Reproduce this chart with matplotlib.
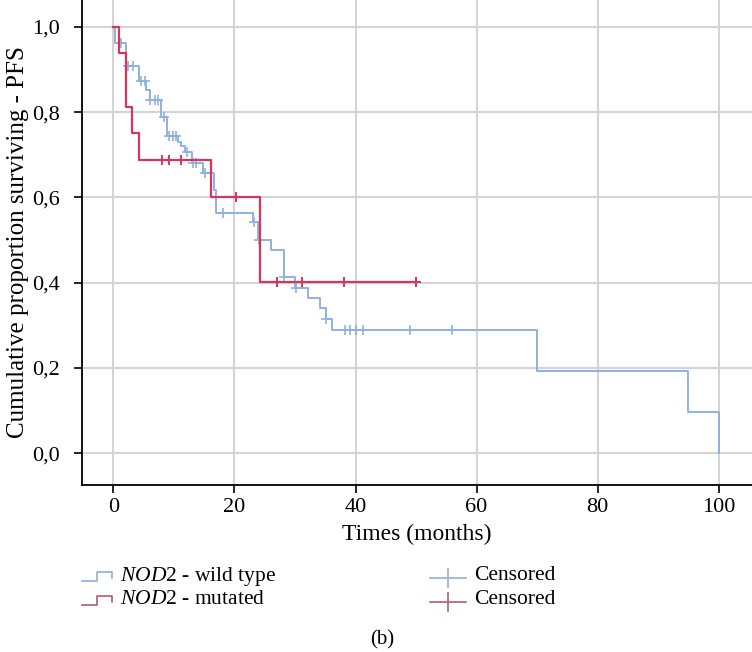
import numpy as np
import matplotlib.pyplot as plt
from matplotlib.lines import Line2D

plt.rcParams['font.family'] = ['Liberation Serif', 'DejaVu Serif']
plt.rcParams['mathtext.fontset'] = 'custom'
plt.rcParams['mathtext.rm'] = 'Liberation Serif'
plt.rcParams['mathtext.it'] = 'Liberation Serif:italic'

# NOD2 wild type: step times and survival after each step
wt_t = [0, 0.2, 2.1, 4.2, 5.4, 6.0, 7.9, 8.9, 10.7, 11.2, 11.9, 12.9, 14.8, 16.6, 17.0,
        23.1, 23.9, 26.1, 28.1, 30.0, 32.2, 34.1, 35.1, 36.1, 70.0, 95.0, 100.0]
wt_s = [1.0, 0.963, 0.907, 0.872, 0.852, 0.829, 0.788, 0.744, 0.731, 0.720, 0.707, 0.680, 0.657, 0.617, 0.563,
        0.543, 0.500, 0.477, 0.414, 0.387, 0.363, 0.340, 0.314, 0.289, 0.193, 0.097, 0.0]
wt_cens = [1.2, 2.4, 3.2, 4.5, 5.2, 6.1, 6.8, 7.4, 8.3, 9.2, 9.8, 10.4, 12.2, 13.1, 13.7, 15.2,
           18.1, 23.3, 24.0, 28.2, 30.1, 35.2, 38.3, 39.1, 40.1, 41.2, 49.0, 56.0]

# NOD2 mutated
mu_t = [0, 1.0, 2.0, 3.1, 4.2, 16.2, 24.2]
mu_s = [1.0, 0.938, 0.813, 0.750, 0.688, 0.602, 0.401]
mu_end = 50.0
mu_cens = [8.1, 9.1, 11.2, 20.2, 27.1, 31.2, 38.1, 50.0]

blue = '#8fb1e2'
red = '#d6355f'


def surv_at(times, surv, t):
    idx = np.searchsorted(times, t, side='right') - 1
    return np.array(surv)[idx]


fig = plt.figure(figsize=(7.52, 6.52), dpi=100)
ax = fig.add_axes([0.109, 0.256, 0.891, 0.744])

ax.step(wt_t, wt_s, where='post', color=blue, lw=1.4, zorder=3)
ax.step(mu_t + [mu_end], mu_s + [mu_s[-1]], where='post', color=red, lw=1.6, zorder=4)
ax.plot(wt_cens, surv_at(wt_t, wt_s, wt_cens), ls='none', marker='+', ms=7, mew=1.2, color=blue, zorder=3)
ax.plot(mu_cens, surv_at(mu_t, mu_s, mu_cens), ls='none', marker='+', ms=7, mew=1.4, color=red, zorder=4)

ax.set_xlim(-5.2, 105.5)
ax.set_ylim(-0.075, 1.063)
ax.set_xticks([0, 20, 40, 60, 80, 100])
ax.set_yticks([0, 0.2, 0.4, 0.6, 0.8, 1.0])
ax.set_yticklabels(['0,0', '0,2', '0,4', '0,6', '0,8', '1,0'])
ax.grid(True, color='#d4d4d4', lw=1.5)
ax.set_axisbelow(True)
for s in ['top', 'right']:
    ax.spines[s].set_visible(False)
for s in ['left', 'bottom']:
    ax.spines[s].set_linewidth(1.3)
ax.tick_params(length=6, width=1.2, labelsize=16, direction='out')
ax.tick_params(axis='y', pad=10)
ax.set_xlabel('Times (months)', fontsize=17, labelpad=5)
ax.set_ylabel('Cumulative proportion surviving - PFS', fontsize=18, labelpad=2)


# legend drawn by hand
def step_icon(x0, y0, color):
    xs = np.array([0, 0.5, 0.5, 1.0, 1.0]) * 30 + x0
    ys = y0 + 9 * (1 - np.array([0, 0, 1, 1, 0.3]))
    fig.add_artist(Line2D(xs / 752, 1 - ys / 652, color=color, lw=1.2))


step_icon(82, 572, '#8fb0d8')
step_icon(82, 596, '#b35a78')
fig.text(120 / 752, 1 - 576 / 652, r'$\it{NOD}$2 - wild type', fontsize=15.5, va='center')
fig.text(120 / 752, 1 - 600 / 652, r'$\it{NOD}$2 - mutated', fontsize=15.5, va='center')

for yy, c in [(578, '#8fb0d8'), (602, '#b35a78')]:
    fig.add_artist(Line2D([430 / 752, 466 / 752], [1 - yy / 652] * 2, color=c, lw=1.2))
    fig.add_artist(Line2D([448 / 752] * 2, [1 - (yy - 9) / 652, 1 - (yy + 9) / 652], color=c, lw=1.2))
    fig.text(474 / 752, 1 - (yy - 2) / 652, 'Censored', fontsize=15.5, va='center')

fig.text(382 / 752, 1 - 640 / 652, '(b)', fontsize=15, ha='center', va='center')

plt.savefig('out.png', dpi=100)
